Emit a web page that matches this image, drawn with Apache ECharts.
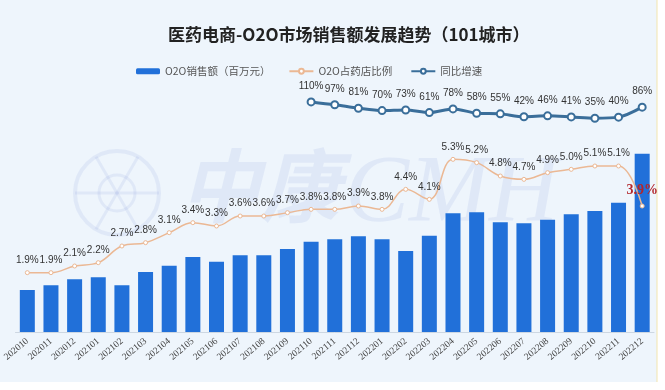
<!DOCTYPE html>
<html>
<head>
<meta charset="utf-8">
<script src="https://cdn.jsdelivr.net/npm/echarts@6/dist/echarts.min.js"></script>
<style>
html,body{margin:0;padding:0;background:#fff;}
#c{width:665px;height:390px;}
</style>
</head>
<body>
<div id="c"></div>
<script>
var categories = ['202010','202011','202012','202101','202102','202103','202104','202105','202106','202107','202108','202109','202110','202111','202112','202201','202202','202203','202204','202205','202206','202207','202208','202209','202210','202211','202212'];
var salesValues = [840,935,1055,1095,935,1200,1325,1500,1405,1535,1535,1660,1805,1855,1915,1855,1620,1925,2375,2395,2195,2175,2245,2355,2420,2585,3565];
var ratioValues = [1.9,1.9,2.1,2.2,2.7,2.8,3.1,3.4,3.3,3.6,3.6,3.7,3.8,3.8,3.9,3.8,4.4,4.1,5.3,5.2,4.8,4.7,4.9,5.0,5.1,5.1,3.9];
var growthValues = [null,null,null,null,null,null,null,null,null,null,null,null,110,97,81,70,73,61,78,58,55,42,46,41,35,40,86];
var seriesNames = ['O2O销售额（百万元）','O2O占药店比例','同比增速'];

var cjk = '"Noto Sans CJK SC", "Noto Sans", sans-serif';
var ratioData = ratioValues.map(function(v, i){
  if (i === ratioValues.length - 1) {
    return {value: v, label: {color:'#b3262b', fontSize:14, fontWeight:'bold', fontFamily:'"Liberation Serif", serif', distance:6}};
  }
  return v;
});

var wm = 'rgba(150,165,225,0.16)';
var cx = 117, cy = 193, r = 42;
var spokes = [0, 60, 120].map(function(a){
  var t = a * Math.PI / 180;
  return {type:'line', z:-8, silent:true,
    shape:{x1:cx + r*Math.cos(t), y1:cy + r*Math.sin(t), x2:cx - r*Math.cos(t), y2:cy - r*Math.sin(t)},
    style:{stroke:wm, lineWidth:3}};
});

var chart = echarts.init(document.getElementById('c'), null, {renderer:'canvas'});
chart.setOption({
  backgroundColor:'#ffffff',
  animation:false,
  graphic:[
    {type:'rect', z:-10, silent:true, shape:{x:0,y:0,width:657,height:382}, style:{fill:'#eef5fc'}},
    {type:'line', z:-9, silent:true, shape:{x1:657,y1:0,x2:657,y2:382}, style:{stroke:'#f3e5ae',lineWidth:1}},
    {type:'circle', z:-8, silent:true, shape:{cx:cx,cy:cy,r:r}, style:{fill:'none',stroke:wm,lineWidth:4}},
    {type:'circle', z:-8, silent:true, shape:{cx:cx,cy:cy,r:18}, style:{fill:'none',stroke:wm,lineWidth:3}}
  ].concat(spokes).concat([
    {type:'text', z:-8, silent:true, left:180, top:146, style:{text:'中康', font:'italic bold 80px "Noto Sans CJK SC"', fill:wm}},
    {type:'text', z:-8, silent:true, left:345, top:148, style:{text:'CMH', font:'italic 96px "Liberation Serif"', fill:wm}}
  ]),
  title:{
    text:'医药电商-O2O市场销售额发展趋势（101城市）',
    left:163, top:21,
    textStyle:{fontFamily:cjk, fontSize:17, fontWeight:'bold', color:'#222'}
  },
  legend:{
    data:seriesNames,
    left:131, top:61,
    itemWidth:24, itemHeight:6, itemGap:18,
    textStyle:{fontFamily:cjk, fontSize:10.5, color:'#555'}
  },
  grid:{left:14, right:11, top:90, bottom:58, containLabel:false},
  xAxis:{
    type:'category', data:categories,
    axisLine:{lineStyle:{color:'#cdd7e2'}},
    axisTick:{show:false},
    axisLabel:{rotate:40, fontSize:9.5, color:'#444', margin:8, interval:0, fontFamily:'"Liberation Serif", serif'}
  },
  yAxis:[
    {type:'value', min:0, max:4840, show:false, splitLine:{show:false}},
    {type:'value', min:0.12, max:7.38, show:false, splitLine:{show:false}},
    {type:'value', min:-950, max:165, show:false, splitLine:{show:false}}
  ],
  series:[
    {name:seriesNames[0], type:'bar', yAxisIndex:0, data:salesValues, barWidth:15, itemStyle:{color:'#2170d9'}},
    {name:seriesNames[1], type:'line', yAxisIndex:1, data:ratioData, smooth:0.4,
      lineStyle:{color:'#ebb894', width:1.5}, itemStyle:{color:'#ffffff', borderColor:'#ebb894', borderWidth:1},
      symbol:'circle', symbolSize:4,
      label:{show:true, position:'top', distance:5, fontSize:10, color:'#333', formatter:function(p){return p.value.toFixed(1)+'%';}}},
    {name:seriesNames[2], type:'line', yAxisIndex:2, data:growthValues, smooth:0.3,
      lineStyle:{color:'#3a6e9a', width:3}, itemStyle:{color:'#3a6e9a', borderColor:'#3a6e9a', borderWidth:1.5},
      symbol:'emptyCircle', symbolSize:7,
      label:{show:true, position:'top', distance:6, fontSize:10, color:'#333', formatter:function(p){return p.value+'%';}}}
  ]
});
</script>
</body>
</html>
